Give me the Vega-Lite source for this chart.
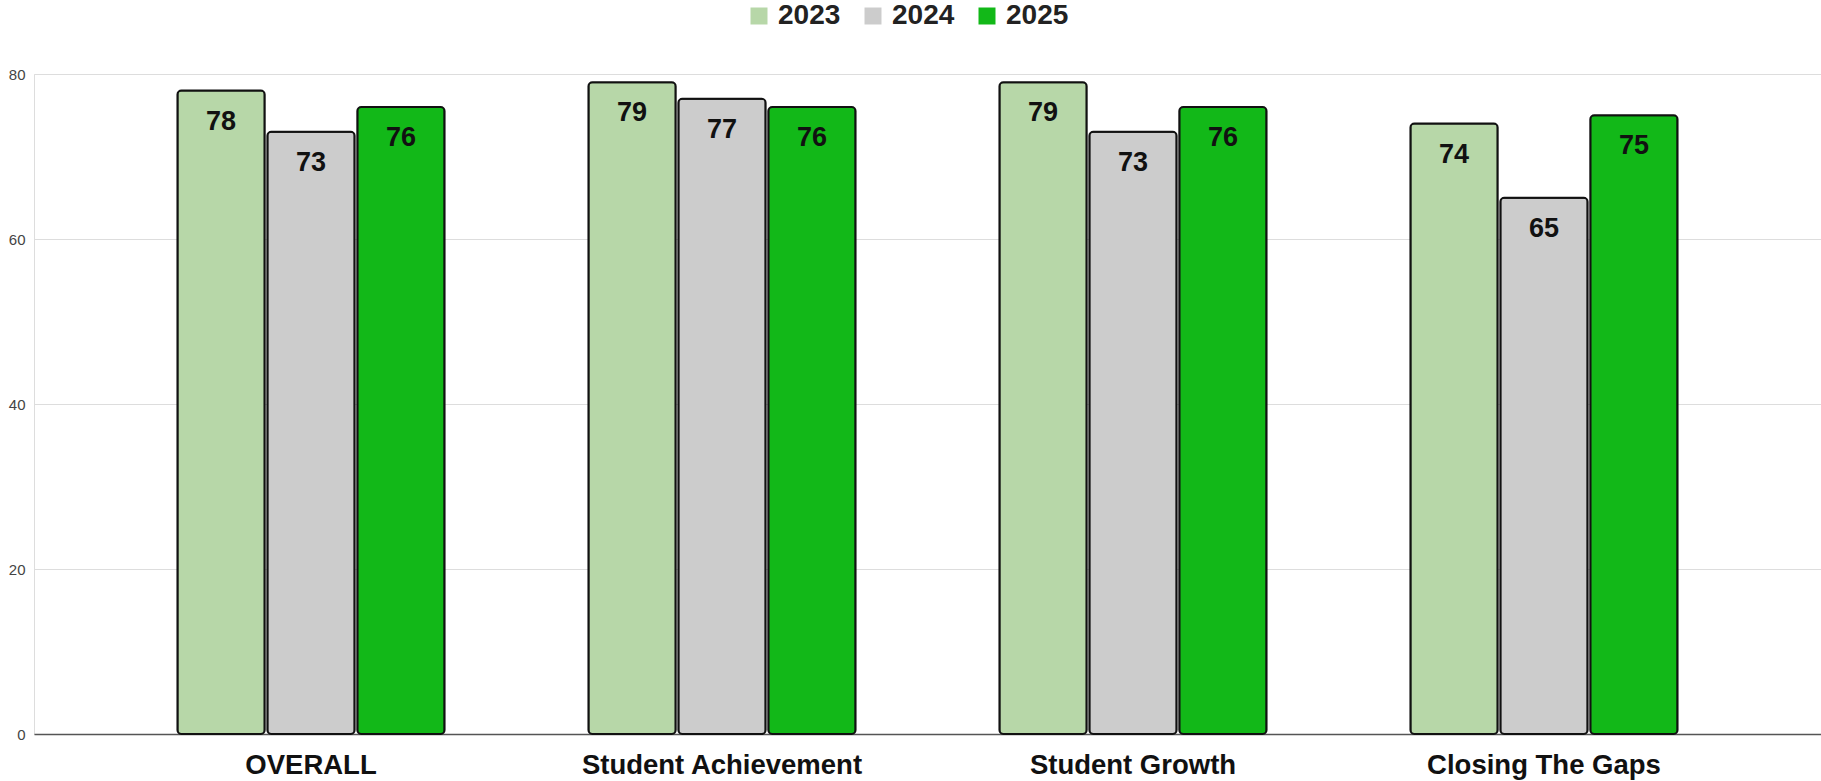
{
  "$schema": "https://vega.github.io/schema/vega-lite/v6.json",
  "autosize": {"type": "none"},
  "width": 1787,
  "height": 660,
  "padding": {"left": 34, "top": 74, "right": 0, "bottom": 47},
  "background": "white",
  "data": {"values": [
    {"cat": "OVERALL", "year": "2023", "value": 78},
    {"cat": "OVERALL", "year": "2024", "value": 73},
    {"cat": "OVERALL", "year": "2025", "value": 76},
    {"cat": "Student Achievement", "year": "2023", "value": 79},
    {"cat": "Student Achievement", "year": "2024", "value": 77},
    {"cat": "Student Achievement", "year": "2025", "value": 76},
    {"cat": "Student Growth", "year": "2023", "value": 79},
    {"cat": "Student Growth", "year": "2024", "value": 73},
    {"cat": "Student Growth", "year": "2025", "value": 76},
    {"cat": "Closing The Gaps", "year": "2023", "value": 74},
    {"cat": "Closing The Gaps", "year": "2024", "value": 65},
    {"cat": "Closing The Gaps", "year": "2025", "value": 75}
  ]},
  "encoding": {
    "x": {"field": "cat", "type": "nominal", "sort": null,
      "scale": {"paddingInner": 0, "paddingOuter": 0.174},
      "axis": {"title": null, "labelAngle": 0, "ticks": false, "labelLimit": 0, "labelFont": "Liberation Sans", "labelFontSize": 27.5, "labelFontWeight": "bold", "labelColor": "#111", "labelPadding": 17, "domainColor": "#555", "domainWidth": 1.5, "grid": false}},
    "xOffset": {"field": "year", "type": "nominal", "scale": {"paddingInner": 0.03, "paddingOuter": 0.8}},
    "y": {"field": "value", "type": "quantitative", "scale": {"domain": [0, 80]},
      "axis": {"title": null, "values": [0, 20, 40, 60, 80], "ticks": false, "domain": false, "labelFont": "Liberation Sans", "labelFontSize": 15, "labelColor": "#444", "labelPadding": 9, "gridColor": "#dddddd", "gridWidth": 1}}
  },
  "layer": [
    {
      "mark": {"type": "bar", "stroke": "#111", "strokeWidth": 2, "cornerRadius": 4},
      "encoding": {
        "color": {"field": "year", "type": "nominal",
          "scale": {"domain": ["2023", "2024", "2025"], "range": ["#b7d7a8", "#cccccc", "#12b818"]},
          "legend": {"title": null, "orient": "none", "direction": "horizontal", "legendX": 711, "legendY": -72,
            "symbolType": "square", "symbolSize": 289, "symbolStrokeWidth": 0, "symbolOpacity": 1,
            "labelFont": "Liberation Sans", "labelFontSize": 28, "labelFontWeight": "bold", "labelColor": "#222",
            "labelOffset": 5, "columnPadding": 18}}
      }
    },
    {
      "mark": {"type": "text", "baseline": "middle", "dy": 31, "font": "Liberation Sans", "fontSize": 27, "fontWeight": "bold", "color": "#111"},
      "encoding": {"text": {"field": "value", "type": "quantitative"}}
    }
  ]
}
